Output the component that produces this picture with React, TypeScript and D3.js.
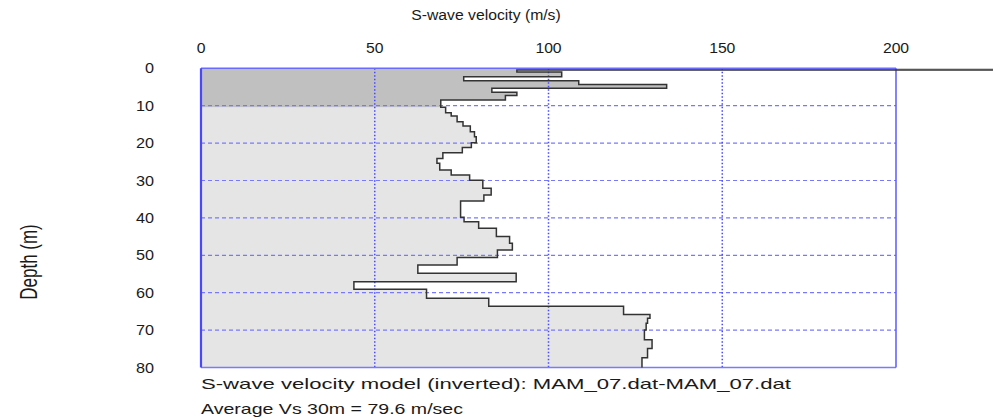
import React, { useEffect, useRef } from 'react'
import * as d3 from 'd3'

// layer top depths (m) and S-wave velocities (m/s)
const layerTops = [
  0, 0.45, 1.0, 2.25, 3.3, 4.3, 5.35, 6.4, 7.3, 8.5,
  10.4, 11.9, 12.75, 14.3, 15.4, 16.95, 18.3, 19.9, 21.2, 22.6,
  24.1, 25.4, 27.2, 28.5, 29.9, 32.1, 33.9, 35.5, 39.8, 41.0,
  42.8, 45.0, 46.8, 48.6, 50.6, 52.6, 54.8, 57.1, 59.1, 61.5,
  63.6, 65.8, 66.8, 68.2, 70.0, 72.6, 74.9, 77.4
]
const vsValues = [
  300, 90.9, 103.8, 75.6, 108.7, 134.0, 83.7, 90.9, 87.6, 69.0,
  70.4, 72.0, 73.7, 75.4, 77.5, 78.7, 79.2, 77.8, 75.2, 69.6,
  67.9, 68.7, 72.0, 77.3, 81.1, 83.5, 81.4, 74.7, 75.7, 79.9,
  85.0, 88.8, 89.6, 85.3, 73.7, 62.4, 90.7, 44.0, 64.9, 82.8,
  121.6, 129.2, 128.5, 128.1, 127.6, 129.8, 128.5, 126.9
]
const maxDepth = 80
const shallowDepth = 10
const xTicks = [0, 50, 100, 150, 200]
const yTicks = [0, 10, 20, 30, 40, 50, 60, 70, 80]
const xLabel = 'S-wave velocity (m/s)'
const yLabel = 'Depth (m)'
const noteLines = [
  'S-wave velocity model (inverted): MAM_07.dat-MAM_07.dat',
  'Average Vs 30m = 79.6 m/sec'
]

const W = 993
const H = 420

function App() {
  const ref = useRef<SVGSVGElement>(null)

  useEffect(() => {
    const svg = d3.select(ref.current)
    svg.selectAll('*').remove()

    const x = d3.scaleLinear().domain([0, 200]).range([201, 896])
    const y = d3.scaleLinear().domain([0, maxDepth]).range([68.3, 367.5])

    const bottoms = layerTops.map((t, i) => (i < layerTops.length - 1 ? layerTops[i + 1] : maxDepth))

    function areaPath(idx: number[]) {
      const p = d3.path()
      const first = idx[0]
      const last = idx[idx.length - 1]
      p.moveTo(x(0), y(layerTops[first]))
      idx.forEach(i => {
        p.lineTo(x(vsValues[i]), y(layerTops[i]))
        p.lineTo(x(vsValues[i]), y(bottoms[i]))
      })
      p.lineTo(x(0), y(bottoms[last]))
      p.closePath()
      return p.toString()
    }

    const all = layerTops.map((_, i) => i)
    const shallow = all.filter(i => layerTops[i] < shallowDepth)
    const deep = all.filter(i => layerTops[i] >= shallowDepth)

    svg.append('path').attr('d', areaPath(deep)).attr('fill', '#e5e5e5')
    svg.append('path').attr('d', areaPath(shallow)).attr('fill', '#c0c0c0')

    // grid
    svg
      .selectAll('.hgrid')
      .data(yTicks.filter(d => d > 0 && d < maxDepth))
      .enter()
      .append('line')
      .attr('x1', x(0))
      .attr('x2', x(200))
      .attr('y1', d => y(d))
      .attr('y2', d => y(d))
      .attr('stroke', '#7878ff')
      .attr('stroke-width', 1.2)
      .attr('stroke-dasharray', '4,3')

    svg
      .selectAll('.vgrid')
      .data(xTicks.filter(d => d > 0 && d < 200))
      .enter()
      .append('line')
      .attr('x1', d => x(d))
      .attr('x2', d => x(d))
      .attr('y1', y(0))
      .attr('y2', y(maxDepth))
      .attr('stroke', '#4a4aff')
      .attr('stroke-width', 1.5)
      .attr('stroke-dasharray', '1.5,2')

    // frame
    svg.append('line').attr('x1', x(0)).attr('x2', x(200)).attr('y1', y(0)).attr('y2', y(0))
      .attr('stroke', '#6a6aff').attr('stroke-width', 1.5)
    svg.append('line').attr('x1', x(0)).attr('x2', x(200)).attr('y1', y(maxDepth)).attr('y2', y(maxDepth))
      .attr('stroke', '#7a7aff').attr('stroke-width', 1.5)
    svg.append('line').attr('x1', x(200)).attr('x2', x(200)).attr('y1', y(0)).attr('y2', y(maxDepth))
      .attr('stroke', '#5a5aff').attr('stroke-width', 1.5)
    svg.append('line').attr('x1', x(0)).attr('x2', x(0)).attr('y1', y(0)).attr('y2', y(maxDepth))
      .attr('stroke', '#4848ff').attr('stroke-width', 2.2)

    // profile
    const line = d3.path()
    line.moveTo(x(vsValues[0]), y(0))
    all.forEach(i => {
      if (i > 0) line.lineTo(x(vsValues[i]), y(layerTops[i]))
      line.lineTo(x(vsValues[i]), y(bottoms[i]))
    })
    svg.append('path').attr('d', line.toString()).attr('fill', 'none')
      .attr('stroke', '#333').attr('stroke-width', 1.5)

    const font = 'Liberation Sans, Arial, sans-serif'
    const txt = (tx: number, ty: number, s: string, size: number, sx: number, anchor: string) =>
      svg.append('text')
        .attr('transform', `translate(${tx},${ty}) scale(${sx},1)`)
        .attr('text-anchor', anchor)
        .attr('font-family', font)
        .attr('font-size', size)
        .attr('fill', '#1a1a1a')
        .text(s)

    txt(486, 20, xLabel, 15, 1.05, 'middle')
    xTicks.forEach(d => txt(x(d), 53, String(d), 15, 1.05, 'middle'))
    yTicks.forEach(d => txt(154, y(d) + 5, String(d), 15, 1.08, 'end'))

    svg.append('text')
      .attr('transform', `translate(37,262) scale(1.42,1) rotate(-90)`)
      .attr('text-anchor', 'middle')
      .attr('font-family', font)
      .attr('font-size', 17)
      .attr('fill', '#1a1a1a')
      .text(yLabel)

    const noteWidths = [590, 262]
    noteLines.forEach((s, i) =>
      svg.append('text')
        .attr('x', x(0))
        .attr('y', 389 + i * 25)
        .attr('font-family', font)
        .attr('font-size', 15)
        .attr('fill', '#1a1a1a')
        .attr('textLength', noteWidths[i])
        .attr('lengthAdjust', 'spacingAndGlyphs')
        .text(s)
    )
  }, [])

  return (
    <svg
      ref={ref}
      width={W}
      height={H}
      style={{ position: 'absolute', left: 0, top: 0, background: '#fff' }}
    />
  )
}

export default App
